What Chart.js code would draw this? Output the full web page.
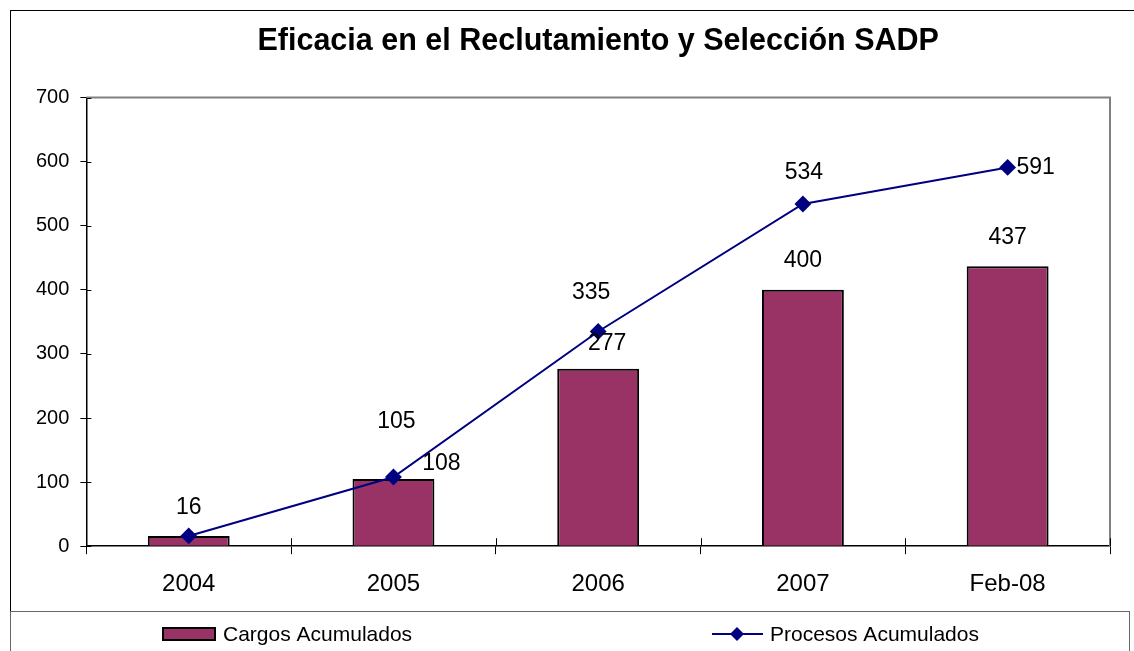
<!DOCTYPE html>
<html>
<head>
<meta charset="utf-8">
<script src="https://cdn.jsdelivr.net/npm/chart.js@4.4.1/dist/chart.umd.min.js"></script>
<style>
  html, body { margin: 0; padding: 0; background: #fff; }
  canvas { display: block; }
</style>
</head>
<body>
<canvas id="chart" width="1134" height="651"></canvas>
<script>
// values
const categories = ['2004', '2005', '2006', '2007', 'Feb-08'];
const cargosAcumulados = [16, 105, 277, 400, 437];
const procesosAcumulados = [16, 108, 335, 534, 591];
const yTicks = [0, 100, 200, 300, 400, 500, 600, 700];
const seriesNames = ['Cargos Acumulados', 'Procesos Acumulados'];
const chartTitle = 'Eficacia en el Reclutamiento y Selección SADP';

const FONT = '"Liberation Sans", Arial, sans-serif';
const BAR_COLOR = '#993366';
const LINE_COLOR = '#000080';

// borders, value labels and the wide legend, drawn like the Excel original
const excelFrame = {
    id: 'excelFrame',
    beforeDraw(chart) {
        const ctx = chart.ctx;
        ctx.save();
        ctx.fillStyle = '#fff';
        ctx.fillRect(0, 0, chart.width, chart.height);
        ctx.restore();
    },
    afterDraw(chart) {
        const ctx = chart.ctx;
        const area = chart.chartArea;
        const xScale = chart.scales.x;
        const yScale = chart.scales.y;
        ctx.save();

        // outer chart border and legend box
        ctx.lineWidth = 1;
        ctx.strokeStyle = '#000';
        ctx.strokeRect(10.5, 10.5, 1130, 700);
        ctx.strokeStyle = '#666';
        ctx.strokeRect(10.5, 611.5, 1119, 100);

        // plot area border (top and right)
        ctx.strokeStyle = '#808080';
        ctx.lineWidth = 2;
        ctx.beginPath();
        ctx.moveTo(area.left, area.top);
        ctx.lineTo(area.right, area.top);
        ctx.lineTo(area.right, area.bottom);
        ctx.stroke();

        // inner half of the crossing tick marks
        ctx.strokeStyle = '#000';
        ctx.lineWidth = 1;
        ctx.beginPath();
        for (let i = 0; i <= categories.length; i++) {
            const x = Math.round(xScale.getPixelForValue(i - 0.5)) + 0.5;
            ctx.moveTo(x, area.bottom - 8);
            ctx.lineTo(x, area.bottom);
        }
        yTicks.forEach(v => {
            const y = Math.round(yScale.getPixelForValue(v)) + 0.5;
            ctx.moveTo(area.left, y);
            ctx.lineTo(area.left + 5, y);
        });
        ctx.stroke();

        // value labels
        ctx.fillStyle = '#000';
        ctx.font = '23px ' + FONT;
        ctx.textAlign = 'center';
        ctx.textBaseline = 'middle';
        const barShift = [[0, -28], [3, -57], [9, -25], [0, -29], [0, -28]];
        const lineShift = [null, [48, -13], [-7, -39], [1, -31], [28, 0]];
        chart.getDatasetMeta(0).data.forEach((el, i) => {
            const s = barShift[i];
            ctx.fillText(String(cargosAcumulados[i]), el.x + s[0], el.y + s[1]);
        });
        chart.getDatasetMeta(1).data.forEach((el, i) => {
            const s = lineShift[i];
            if (!s) return;
            ctx.fillText(String(procesosAcumulados[i]), el.x + s[0], el.y + s[1]);
        });

        // legend
        ctx.font = '21px ' + FONT;
        ctx.textAlign = 'left';
        ctx.textBaseline = 'alphabetic';
        ctx.fillStyle = BAR_COLOR;
        ctx.fillRect(163, 628, 52, 12);
        ctx.strokeStyle = '#000';
        ctx.lineWidth = 2;
        ctx.strokeRect(163, 628, 52, 12);
        ctx.fillStyle = '#000';
        ctx.fillText(seriesNames[0], 223, 641);

        ctx.strokeStyle = LINE_COLOR;
        ctx.lineWidth = 2;
        ctx.beginPath();
        ctx.moveTo(712, 634);
        ctx.lineTo(763, 634);
        ctx.stroke();
        ctx.fillStyle = LINE_COLOR;
        ctx.beginPath();
        ctx.moveTo(737, 627);
        ctx.lineTo(744, 634);
        ctx.lineTo(737, 641);
        ctx.lineTo(730, 634);
        ctx.closePath();
        ctx.fill();
        ctx.fillStyle = '#000';
        ctx.fillText(seriesNames[1], 770, 641);

        ctx.restore();
    }
};

const ctx = document.getElementById('chart').getContext('2d');
new Chart(ctx, {
    type: 'bar',
    data: {
        labels: categories,
        datasets: [
            {
                label: seriesNames[0],
                data: cargosAcumulados,
                backgroundColor: BAR_COLOR,
                borderColor: '#000',
                borderWidth: 2,
                barPercentage: 0.4,
                categoryPercentage: 1,
                order: 1,
            },
            {
                type: 'line',
                label: seriesNames[1],
                data: procesosAcumulados,
                borderColor: LINE_COLOR,
                backgroundColor: LINE_COLOR,
                borderWidth: 2,
                pointStyle: 'rectRot',
                pointRadius: 7,
                pointHoverRadius: 7,
                tension: 0,
                order: 0,
            },
        ],
    },
    options: {
        responsive: false,
        animation: false,
        layout: {
            padding: { left: 25, right: 24, top: 0, bottom: 36 },
        },
        plugins: {
            legend: { display: false },
            tooltip: { enabled: false },
            title: {
                display: true,
                text: chartTitle,
                fullSize: false,
                color: '#000',
                font: { family: FONT, size: 30.5, weight: 'bold' },
                padding: { top: 23, bottom: 38 },
            },
        },
        scales: {
            x: {
                offset: true,
                grid: {
                    offset: true,
                    drawOnChartArea: false,
                    drawTicks: true,
                    tickLength: 8,
                    color: '#000',
                },
                border: { display: true, color: '#000', width: 1.5 },
                ticks: {
                    color: '#000',
                    padding: 16,
                    font: { family: FONT, size: 24 },
                },
            },
            y: {
                min: 0,
                max: 700,
                afterBuildTicks: (scale) => {
                    scale.ticks = yTicks.map(v => ({ value: v }));
                },
                grid: {
                    drawOnChartArea: false,
                    drawTicks: true,
                    tickLength: 6,
                    color: '#000',
                },
                border: { display: true, color: '#000', width: 1.5 },
                ticks: {
                    color: '#000',
                    padding: 11,
                    font: { family: FONT, size: 20 },
                },
            },
        },
    },
    plugins: [excelFrame],
});
</script>
</body>
</html>
